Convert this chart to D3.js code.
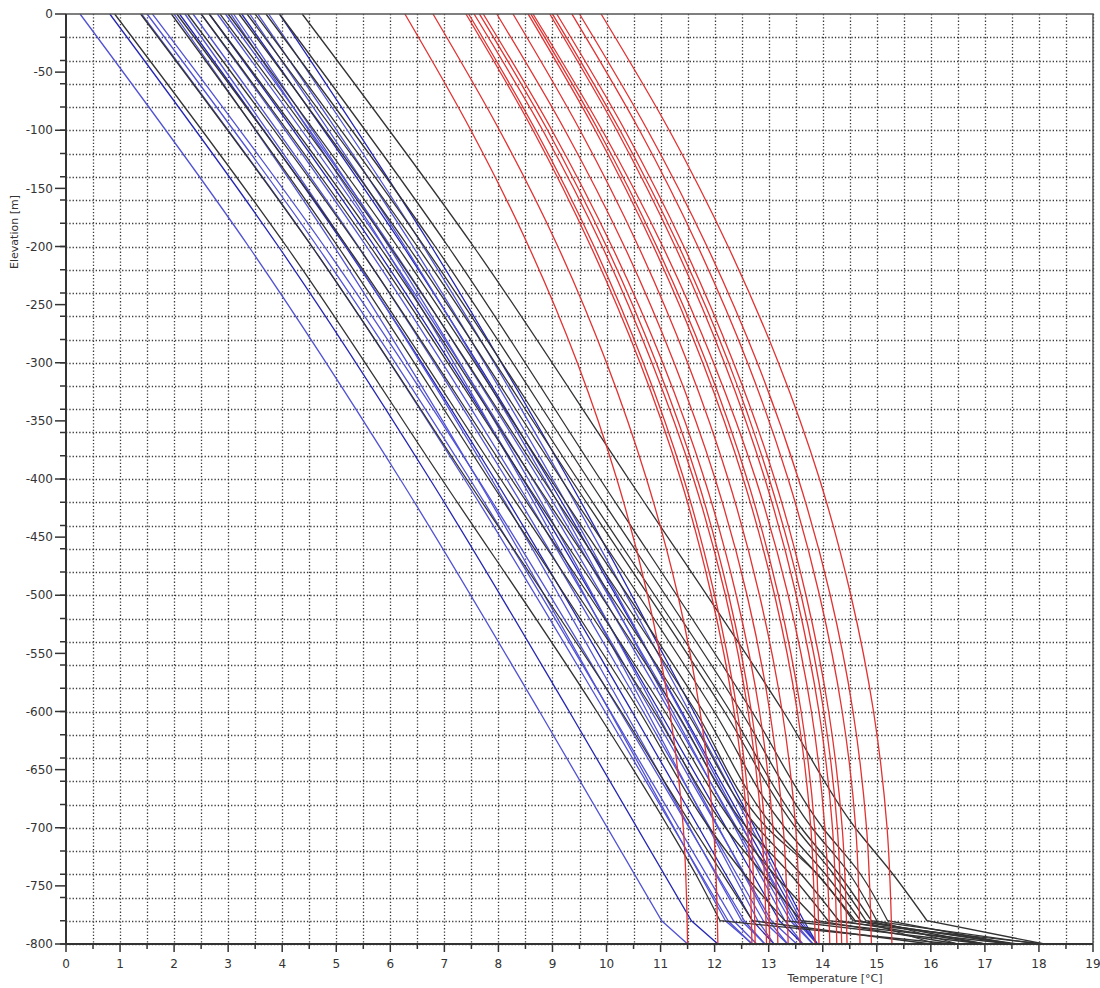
<!DOCTYPE html>
<html>
<head>
<meta charset="utf-8">
<script src="https://cdn.jsdelivr.net/npm/d3@7/dist/d3.min.js"></script>
<style>
  html, body { margin: 0; padding: 0; background: #fff; }
  svg { display: block; }
  text { font-family: "DejaVu Sans", Verdana, sans-serif; fill: #333; }
</style>
</head>
<body>
<div id="chart"></div>
<script>
// Axis ticks
const tempTicks = [0,1,2,3,4,5,6,7,8,9,10,11,12,13,14,15,16,17,18,19];
const elevTicks = [0,-50,-100,-150,-200,-250,-300,-350,-400,-450,-500,-550,-600,-650,-700,-750,-800];

// Blue profiles: temperature at each elevation in blueDepths
const blueDepths = [0, -200, -400, -600, -780, -800];
const blueProfiles = [
  [0.26, 3.38, 6.18, 8.76, 11.02, 11.5],
  [0.81, 3.93, 6.73, 9.31, 11.57, 12.06],
  [1.40, 4.55, 7.37, 9.97, 12.25, 12.69],
  [1.50, 4.65, 7.47, 10.07, 12.35, 12.78],
  [1.60, 4.78, 7.62, 10.25, 12.55, 12.93],
  [2.10, 5.17, 7.93, 10.47, 12.70, 13.10],
  [2.20, 5.19, 7.87, 10.34, 12.50, 12.93],
  [2.35, 5.41, 8.15, 10.68, 12.90, 13.35],
  [2.50, 5.56, 8.30, 10.83, 13.05, 13.52],
  [2.65, 5.71, 8.45, 10.98, 13.20, 13.63],
  [2.80, 5.87, 8.63, 11.17, 13.40, 13.82],
  [2.95, 6.01, 8.75, 11.28, 13.50, 13.90],
  [3.10, 5.97, 8.55, 10.92, 13.00, 13.35],
  [3.25, 6.24, 8.92, 11.39, 13.55, 13.90],
  [3.40, 6.27, 8.85, 11.22, 13.30, 13.63],
  [3.55, 6.42, 9.00, 11.37, 13.45, 13.82],
  [3.75, 6.61, 9.17, 11.53, 13.60, 13.90],
  [3.95, 6.76, 9.29, 11.61, 13.65, 13.90],
  [3.05, 5.88, 8.41, 10.75, 12.80, 13.10],
  [2.00, 4.96, 7.61, 10.06, 12.20, 12.70]
];

// Black profiles: temperature at each elevation in blackDepths
const blackDepths = [0, -200, -400, -600, -700, -740, -780, -800];
const blackProfiles = [
  [0.90, 4.08, 6.95, 9.82, 11.15, 11.65, 12.10, 16.4],
  [1.38, 4.55, 7.41, 10.27, 11.60, 12.15, 12.70, 16.0],
  [1.95, 5.03, 7.82, 10.61, 11.90, 12.55, 13.30, 17.0],
  [2.05, 5.20, 8.04, 10.88, 12.20, 12.90, 13.60, 17.5],
  [2.25, 5.40, 8.24, 11.08, 12.40, 13.10, 13.90, 16.5],
  [2.50, 5.63, 8.46, 11.29, 12.60, 13.40, 14.10, 18.1],
  [2.65, 5.80, 8.64, 11.48, 12.80, 13.60, 14.30, 17.0],
  [2.85, 5.99, 8.82, 11.65, 12.97, 13.90, 14.56, 17.6],
  [3.00, 6.13, 8.96, 11.79, 13.10, 13.90, 14.60, 17.5],
  [3.20, 6.33, 9.16, 11.99, 13.30, 14.05, 14.70, 16.1],
  [3.35, 6.50, 9.34, 12.18, 13.50, 14.20, 14.80, 17.0],
  [3.50, 6.63, 9.46, 12.29, 13.60, 14.30, 14.90, 18.0],
  [3.70, 6.83, 9.66, 12.49, 13.80, 14.50, 15.00, 16.5],
  [3.95, 7.07, 9.88, 12.69, 14.00, 14.70, 15.20, 17.5],
  [4.37, 7.54, 10.41, 13.27, 14.60, 15.30, 15.93, 18.1]
];

// Red profiles: temperature at each elevation in redDepths
const redDepths = [0, -100, -200, -300, -400, -500, -600, -700, -800];
const redProfiles = [
  [6.27, 7.49, 8.56, 9.46, 10.19, 10.76, 11.17, 11.42, 11.50],
  [6.79, 8.02, 9.10, 10.00, 10.74, 11.32, 11.73, 11.98, 12.06],
  [7.40, 8.64, 9.71, 10.62, 11.37, 11.94, 12.36, 12.61, 12.69],
  [7.45, 8.69, 9.77, 10.68, 11.43, 12.00, 12.42, 12.67, 12.75],
  [7.55, 8.82, 9.92, 10.84, 11.61, 12.20, 12.62, 12.87, 12.96],
  [7.65, 8.91, 10.00, 10.92, 11.68, 12.26, 12.68, 12.93, 13.02],
  [7.72, 8.99, 10.10, 11.04, 11.81, 12.40, 12.83, 13.08, 13.17],
  [7.97, 9.23, 10.33, 11.25, 12.01, 12.60, 13.02, 13.27, 13.36],
  [8.27, 9.51, 10.59, 11.50, 12.25, 12.83, 13.25, 13.50, 13.58],
  [8.55, 9.79, 10.87, 11.78, 12.53, 13.11, 13.53, 13.78, 13.86],
  [8.60, 9.85, 10.93, 11.85, 12.60, 13.18, 13.60, 13.85, 13.93],
  [8.64, 9.92, 11.04, 11.98, 12.76, 13.36, 13.79, 14.04, 14.13],
  [8.95, 10.19, 11.27, 12.18, 12.93, 13.51, 13.93, 14.18, 14.26],
  [9.00, 10.25, 11.34, 12.26, 13.01, 13.60, 14.02, 14.27, 14.35],
  [9.08, 10.34, 11.43, 12.35, 13.11, 13.69, 14.11, 14.36, 14.45],
  [9.36, 10.61, 11.69, 12.61, 13.36, 13.94, 14.36, 14.61, 14.69],
  [9.50, 10.76, 11.86, 12.79, 13.55, 14.14, 14.56, 14.81, 14.90],
  [9.90, 11.16, 12.25, 13.18, 13.94, 14.52, 14.94, 15.19, 15.28]
];

const W = 1100, H = 988;
const plot = { left: 66, right: 1093, top: 14, bottom: 944 };

const svg = d3.select("#chart").append("svg")
  .attr("width", W).attr("height", H);

const x = d3.scaleLinear().domain([0, 19]).range([plot.left, plot.right]);
const y = d3.scaleLinear().domain([0, -800]).range([plot.top, plot.bottom]);

// Dotted grid: every 0.5 °C and every 20 m
const gridX = d3.range(0.5, 19.01, 0.5);
const gridY = d3.range(-20, -800.1, -20);
const grid = svg.append("g").attr("class", "grid")
  .attr("stroke", "#3a3a3a").attr("stroke-width", 1.3)
  .attr("stroke-dasharray", "1.3,2");
grid.selectAll("line.gx").data(gridX).join("line").attr("class", "gx")
  .attr("x1", d => Math.round(x(d)) + 0.5).attr("x2", d => Math.round(x(d)) + 0.5)
  .attr("y1", plot.top).attr("y2", plot.bottom);
grid.selectAll("line.gy").data(gridY).join("line").attr("class", "gy")
  .attr("y1", d => Math.round(y(d)) + 0.5).attr("y2", d => Math.round(y(d)) + 0.5)
  .attr("x1", plot.left).attr("x2", plot.right);

// Smooth profile down to the last node, then a straight segment to the base
const kinkedPath = depths => temps => {
  const pts = temps.map((t, i) => [x(t), y(depths[i])]);
  const n = pts.length;
  const head = d3.line().curve(d3.curveMonotoneY)(pts.slice(0, n - 1));
  return head + `L${pts[n - 1][0]},${pts[n - 1][1]}`;
};
const smoothPath = depths => temps =>
  d3.line().curve(d3.curveMonotoneY)(temps.map((t, i) => [x(t), y(depths[i])]));

const lines = svg.append("g").attr("fill", "none").attr("stroke-width", 1.3);

lines.append("g").selectAll("path").data(blueProfiles).join("path")
  .attr("d", kinkedPath(blueDepths))
  .attr("stroke", (d, i) => i % 4 === 1 ? "#2626b4" : "#5252d4");

lines.append("g").selectAll("path").data(blackProfiles).join("path")
  .attr("d", kinkedPath(blackDepths))
  .attr("stroke", "#333");

lines.append("g").selectAll("path").data(redProfiles).join("path")
  .attr("d", smoothPath(redDepths))
  .attr("stroke", "#e23232");

// Frame
svg.append("path")
  .attr("d", `M${plot.left},${plot.top}H${plot.right}V${plot.bottom}`)
  .attr("fill", "none").attr("stroke", "#555").attr("stroke-width", 1.5);

// Left axis
const yAxis = svg.append("g").attr("transform", `translate(${plot.left},0)`);
yAxis.append("line").attr("x1", 0).attr("x2", 0)
  .attr("y1", plot.top).attr("y2", plot.bottom)
  .attr("stroke", "#333").attr("stroke-width", 2);
yAxis.selectAll("line.minor").data(gridY).join("line").attr("class", "minor")
  .attr("x1", -6).attr("x2", 0)
  .attr("y1", d => y(d)).attr("y2", d => y(d))
  .attr("stroke", "#333").attr("stroke-width", 1.5);
yAxis.selectAll("line.major").data(elevTicks).join("line").attr("class", "major")
  .attr("x1", -11).attr("x2", 0)
  .attr("y1", d => y(d)).attr("y2", d => y(d))
  .attr("stroke", "#333").attr("stroke-width", 1.5);
yAxis.selectAll("text").data(elevTicks).join("text")
  .attr("x", -13).attr("y", d => y(d)).attr("dy", "0.35em")
  .attr("text-anchor", "end").attr("font-size", 12)
  .text(d => d);

// Bottom axis
const xAxis = svg.append("g").attr("transform", `translate(0,${plot.bottom})`);
xAxis.append("line").attr("x1", plot.left).attr("x2", plot.right)
  .attr("y1", 0).attr("y2", 0).attr("stroke", "#333").attr("stroke-width", 2);
xAxis.selectAll("line.minor").data(gridX.filter(d => d % 1 !== 0)).join("line").attr("class", "minor")
  .attr("x1", d => x(d)).attr("x2", d => x(d))
  .attr("y1", 0).attr("y2", 5)
  .attr("stroke", "#333").attr("stroke-width", 1.5);
xAxis.selectAll("line.major").data(tempTicks).join("line").attr("class", "major")
  .attr("x1", d => x(d)).attr("x2", d => x(d))
  .attr("y1", 0).attr("y2", 8)
  .attr("stroke", "#333").attr("stroke-width", 1.5);
xAxis.selectAll("text").data(tempTicks).join("text")
  .attr("x", d => x(d)).attr("y", 24)
  .attr("text-anchor", "middle").attr("font-size", 12)
  .text(d => d);

// Axis titles
svg.append("text")
  .attr("transform", "translate(18,232) rotate(-90)")
  .attr("text-anchor", "middle").attr("font-size", 11)
  .text("Elevation [m]");
svg.append("text")
  .attr("x", 835).attr("y", 982)
  .attr("text-anchor", "middle").attr("font-size", 11)
  .text("Temperature [°C]");
</script>
</body>
</html>
